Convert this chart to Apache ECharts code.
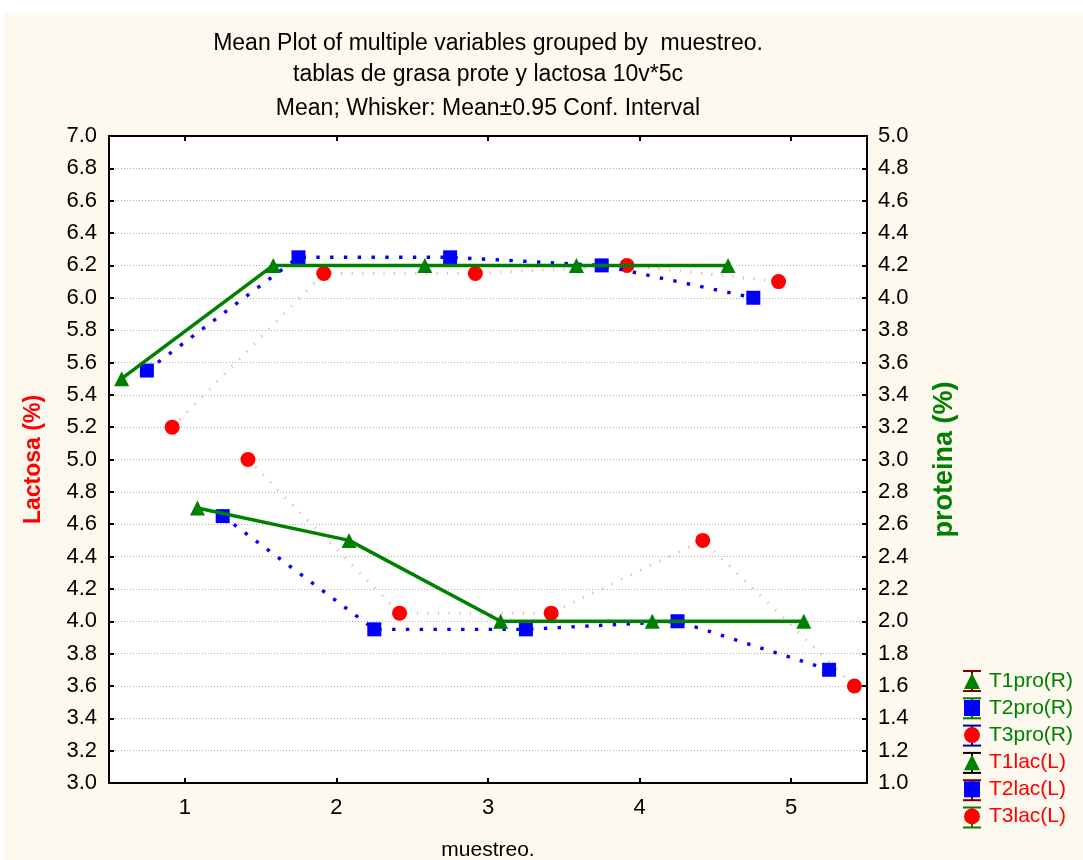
<!DOCTYPE html>
<html>
<head>
<meta charset="utf-8">
<script src="https://cdn.jsdelivr.net/npm/echarts@6/dist/echarts.min.js"></script>
<style>
  html, body { margin: 0; padding: 0; background: #ffffff; }
  #chart { width: 1083px; height: 860px; }
</style>
</head>
<body>
<div id="chart"></div>
<script>
// Sampling rounds (x axis categories)
const muestreo = [1, 2, 3, 4, 5];

// Mean protein (%) per round, right axis
const T1pro = [3.50, 4.20, 4.20, 4.20, 4.20];
const T2pro = [3.55, 4.25, 4.25, 4.20, 4.00];
const T3pro = [3.20, 4.15, 4.15, 4.20, 4.10];

// Mean lactose (%) per round, left axis
const T1lac = [4.70, 4.50, 4.00, 4.00, 4.00];
const T2lac = [4.65, 3.95, 3.95, 4.00, 3.70];
const T3lac = [5.00, 4.05, 4.05, 4.50, 3.60];

const seriesNames = ['T1pro(R)', 'T2pro(R)', 'T3pro(R)', 'T1lac(L)', 'T2lac(L)', 'T3lac(L)'];
const seriesValues = [T1pro, T2pro, T3pro, T1lac, T2lac, T3lac];

const titleLines = [
  'Mean Plot of multiple variables grouped by  muestreo.',
  'tablas de grasa prote y lactosa 10v*5c',
  'Mean; Whisker: Mean\u00B10.95 Conf. Interval'
];

// ---- styling ----
const GREEN = '#008000', BLUE = '#0000ff', RED = '#ff0000';
const FONT = '"Liberation Sans", Arial, sans-serif';
const styles = [
  { color: GREEN, symbol: 'triangle', size: 15, line: { width: 3.5, type: 'solid', color: GREEN } },
  { color: BLUE, symbol: 'rect', size: 14, line: { width: 3.4, type: [3.4, 10.4], color: BLUE } },
  { color: RED, symbol: 'circle', size: 15, line: { width: 3, type: [1, 9.6], color: 'rgba(255,120,120,0.7)' } }
];
const whiskerColors = ['#800000', '#008000', '#0000a0', '#000000', '#800000', '#008000'];
const textColors = [GREEN, GREEN, GREEN, RED, RED, RED];

const GRID = { left: 109, top: 136, right: 216, bottom: 77 };
const plotCenterX = (GRID.left + (1083 - GRID.right)) / 2;

// series are spread side by side within each round
const nSeries = seriesNames.length;
function slot(i) { return (i - (nSeries - 1) / 2) / nSeries; }

const series = seriesValues.map(function (vals, i) {
  const st = styles[i % 3];
  return {
    name: seriesNames[i],
    type: 'line',
    xAxisIndex: 0,
    yAxisIndex: i < 3 ? 1 : 0,
    symbol: st.symbol,
    symbolSize: st.size,
    itemStyle: { color: st.color, opacity: 1 },
    lineStyle: st.line,
    emphasis: { disabled: true },
    z: 3 + (2 - (i % 3)),
    data: vals.map(function (v, k) { return [muestreo[k] + slot(i), v]; })
  };
});

// legend layout
const LEG_ICON_X = 972, LEG_TOP = 681, LEG_STEP = 27.3, LEG_ROW_H = 21.2;
const legendGraphics = [];
seriesNames.forEach(function (n, i) {
  const cy = LEG_TOP + i * LEG_STEP;
  const c = whiskerColors[i];
  legendGraphics.push({
    type: 'group', z: 1, silent: true,
    children: [
      { type: 'line', shape: { x1: LEG_ICON_X, y1: cy - 10, x2: LEG_ICON_X, y2: cy + 10 }, style: { stroke: c, lineWidth: 2 } },
      { type: 'line', shape: { x1: LEG_ICON_X - 9, y1: cy - 10, x2: LEG_ICON_X + 9, y2: cy - 10 }, style: { stroke: c, lineWidth: 2 } },
      { type: 'line', shape: { x1: LEG_ICON_X - 9, y1: cy + 10, x2: LEG_ICON_X + 9, y2: cy + 10 }, style: { stroke: c, lineWidth: 2 } }
    ]
  });
});

const titleTops = [32, 63.5, 97.5];

const option = {
  backgroundColor: '#ffffff',
  animation: false,
  textStyle: { fontFamily: FONT },
  title: titleLines.map(function (t, i) {
    return {
      text: t, left: plotCenterX, top: titleTops[i], textAlign: 'center', padding: 0,
      textStyle: { fontSize: 23, fontWeight: 'normal', color: '#000', fontFamily: FONT }
    };
  }),
  graphic: [
    { type: 'rect', z: -100, silent: true, shape: { x: 4, y: 13, width: 1079, height: 847 }, style: { fill: '#fdf9ee' } }
  ].concat(legendGraphics),
  legend: {
    orient: 'vertical',
    left: LEG_ICON_X - 8,
    top: LEG_TOP - LEG_ROW_H / 2,
    padding: 0,
    itemWidth: 16,
    itemHeight: 16,
    itemGap: LEG_STEP - LEG_ROW_H,
    selectedMode: false,
    z: 5,
    textStyle: { fontSize: 21, fontFamily: FONT, padding: [0, 0, 0, 4] },
    data: seriesNames.map(function (n, i) {
      return { name: n, icon: styles[i % 3].symbol, itemStyle: { color: styles[i % 3].color }, textStyle: { color: textColors[i] } };
    })
  },
  grid: {
    left: GRID.left, top: GRID.top, right: GRID.right, bottom: GRID.bottom,
    outerBoundsMode: 'none',
    show: true, backgroundColor: '#ffffff', borderColor: '#000', borderWidth: 2
  },
  xAxis: [
    {
      type: 'value', position: 'bottom', min: 0.5, max: 5.5, interval: 0.5,
      name: 'muestreo.', nameLocation: 'middle', nameGap: 57,
      nameTextStyle: { fontSize: 21, color: '#000', fontFamily: FONT },
      axisLine: { show: true, onZero: false, lineStyle: { color: '#000', width: 2 } },
      axisTick: { show: true, inside: true, length: 5, customValues: muestreo, lineStyle: { color: '#000', width: 2 } },
      axisLabel: { show: true, customValues: muestreo, margin: 14, fontSize: 22, color: '#000', fontFamily: FONT,
        formatter: function (v) { return Number.isInteger(v) ? String(v) : ''; } },
      splitLine: { show: false }
    },
    {
      type: 'value', position: 'top', min: 0.5, max: 5.5, interval: 0.5,
      axisLine: { show: true, onZero: false, lineStyle: { color: '#000', width: 2 } },
      axisTick: { show: true, inside: true, length: 5, customValues: muestreo, lineStyle: { color: '#000', width: 2 } },
      axisLabel: { show: false },
      splitLine: { show: false }
    }
  ],
  yAxis: [
    {
      type: 'value', position: 'left', min: 3, max: 7, interval: 0.2,
      name: 'Lactosa (%)', nameLocation: 'middle', nameRotate: 90, nameGap: 64,
      nameTextStyle: { fontSize: 23, fontWeight: 'bold', color: RED, fontFamily: FONT },
      axisLine: { show: true, lineStyle: { color: '#000', width: 2 } },
      axisTick: { show: true, inside: true, length: 5, lineStyle: { color: '#000', width: 2 } },
      axisLabel: { margin: 12, fontSize: 22, color: '#000', fontFamily: FONT, formatter: function (v) { return v.toFixed(1); } },
      splitLine: { show: true, lineStyle: { color: '#b0b0b0', width: 1, type: [1, 2] } }
    },
    {
      type: 'value', position: 'right', min: 1, max: 5, interval: 0.2,
      name: 'proteina (%)', nameLocation: 'middle', nameRotate: 90, nameGap: 64,
      nameTextStyle: { fontSize: 27, fontWeight: 'bold', color: GREEN, fontFamily: FONT },
      axisLine: { show: true, lineStyle: { color: '#000', width: 2 } },
      axisTick: { show: true, inside: true, length: 5, lineStyle: { color: '#000', width: 2 } },
      axisLabel: { margin: 11, fontSize: 22, color: '#000', fontFamily: FONT, formatter: function (v) { return v.toFixed(1); } },
      splitLine: { show: false }
    }
  ],
  series: series
};

const chart = echarts.init(document.getElementById('chart'), null, { renderer: 'canvas' });
chart.setOption(option);
</script>
</body>
</html>
